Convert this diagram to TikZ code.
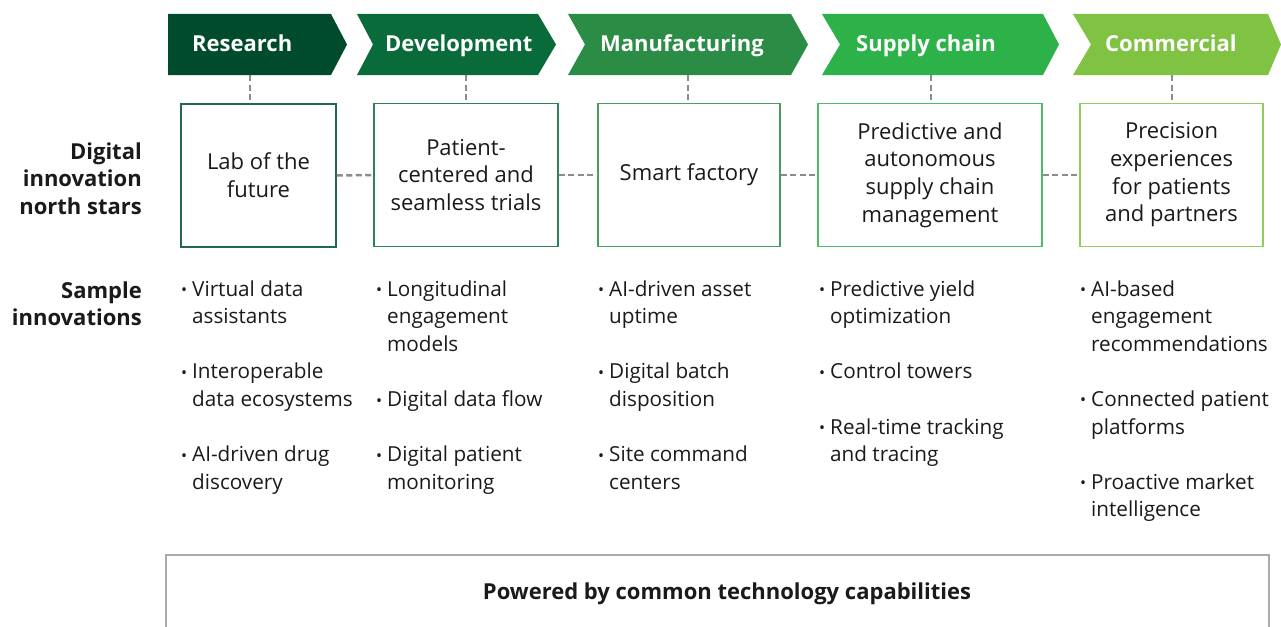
\documentclass[tikz,border=0pt]{standalone}
\usepackage{fontspec}
\setmainfont{Open Sans}
\definecolor{cA}{HTML}{004B2C}
\definecolor{cB}{HTML}{0A6B3A}
\definecolor{cC}{HTML}{2A8C45}
\definecolor{cD}{HTML}{2DB24A}
\definecolor{cE}{HTML}{80C342}
\definecolor{dashgray}{HTML}{8C8C8C}
\definecolor{boxgray}{HTML}{A8ABAD}
\definecolor{txt}{HTML}{1A1A1A}
\newcommand\fntbody{\fontsize{20.7}{27.6}\selectfont}
\newcommand\fntnbox{\fontsize{22}{27.7}\selectfont}
\newcommand\fnthead{\fontsize{22}{27.4}\selectfont\bfseries}
\newcommand\bul{\makebox[11pt][l]{\raisebox{0.6pt}{\fontsize{16}{16}\selectfont •}}}
\newcommand\ind{\hspace*{11pt}}
\begin{document}
\begin{tikzpicture}[x=1pt,y=-1pt,
  chevtext/.style={font=\fnthead, text=white, anchor=base west, inner sep=0},
  nsbox/.style={draw, line width=1.5pt, fill=white, minimum height=143pt, font=\fntnbox, text=txt, align=center, inner sep=2pt},
  dsh/.style={draw=dashgray, line width=2.5pt, dash pattern=on 6pt off 3.5pt},
  itm/.style={font=\fntbody, text=txt, align=left, anchor=north west, inner sep=0},
  lbl/.style={font=\fnthead, text=txt, align=right, anchor=north east, inner sep=0}]
\useasboundingbox (0,0) rectangle (1281,626);

% chevrons
\fill[cA] (168,14) -- (331,14) -- (347,44.5) -- (331,75) -- (168,75) -- cycle;
\fill[cB] (357,14) -- (538,14) -- (556,44.5) -- (538,75) -- (357,75) -- (373,44.5) -- cycle;
\fill[cC] (568,14) -- (791,14) -- (808,44.5) -- (791,75) -- (568,75) -- (585,44.5) -- cycle;
\fill[cD] (822,14) -- (1043,14) -- (1059,44.5) -- (1043,75) -- (822,75) -- (840,44.5) -- cycle;
\fill[cE] (1073,14) -- (1268,14) -- (1281,44.5) -- (1268,75) -- (1073,75) -- (1091,44.5) -- cycle;

\node[chevtext] (h1) at (192,52) {Research};
\node[chevtext] (h2) at (385,52) {Development};
\node[chevtext] (h3) at (600,52) {Manufacturing};
\node[chevtext] (h4) at (856,52) {Supply chain};
\node[chevtext] (h5) at (1105,52) {Commercial};

\coordinate (t1) at (250,75);
\coordinate (t2) at (466,75);
\coordinate (t3) at (688,75);
\coordinate (t4) at (931,75);
\coordinate (t5) at (1172,75);

% north star boxes
\node[nsbox, draw=cA!85!white, minimum width=155pt] (b1) at (258.5,175.5) {Lab of the\\future};
\node[nsbox, draw=cB!85!white, minimum width=184pt] (b2) at (466,175) {Patient-\\centered and\\seamless trials};
\node[nsbox, draw=cC!85!white, minimum width=182pt] (b3) at (689,175) {Smart factory};
\node[nsbox, draw=cD!85!white, minimum width=224pt] (b4) at (930,175) {Predictive and\\autonomous\\supply chain\\management};
\node[nsbox, draw=cE!85!white, minimum width=183pt] (b5) at (1171.5,175) {Precision\\experiences\\for patients\\and partners};

% connectors
\draw[dsh] (t1) -- (t1 |- b1.north);
\draw[dsh] (t2) -- (t2 |- b2.north);
\draw[dsh] (t3) -- (t3 |- b3.north);
\draw[dsh] (t4) -- (t4 |- b4.north);
\draw[dsh] (t5) -- (t5 |- b5.north);
\draw[dsh] (b1.east) -- (b2.west);
\draw[dsh] (b2.east) -- (b3.west);
\draw[dsh] (b3.east) -- (b4.west);
\draw[dsh] (b4.east) -- (b5.west);

% row labels
\node[lbl] (ns) at (142,142.3) {Digital\\innovation\\north stars};
\node[lbl] (si) at (142,281.3) {Sample\\innovations};

% sample innovations
\node[itm] (i11) at (181,280.2) {\bul Virtual data\\\ind assistants};
\node[itm] (i12) at (181,363) {\bul Interoperable\\\ind data ecosystems};
\node[itm] (i13) at (181,445.8) {\bul AI-driven drug\\\ind discovery};

\node[itm] (i21) at (376,280.2) {\bul Longitudinal\\\ind engagement\\\ind models};
\node[itm] (i22) at (376,390.6) {\bul Digital data flow};
\node[itm] (i23) at (376,445.8) {\bul Digital patient\\\ind monitoring};

\node[itm] (i31) at (598,280.2) {\bul AI-driven asset\\\ind uptime};
\node[itm] (i32) at (598,363) {\bul Digital batch\\\ind disposition};
\node[itm] (i33) at (598,445.8) {\bul Site command\\\ind centers};

\node[itm] (i41) at (819,280.2) {\bul Predictive yield\\\ind optimization};
\node[itm] (i42) at (819,363) {\bul Control towers};
\node[itm] (i43) at (819,418.2) {\bul Real-time tracking\\\ind and tracing};

\node[itm] (i51) at (1080,280.2) {\bul AI-based\\\ind engagement\\\ind recommendations};
\node[itm] (i52) at (1080,390.6) {\bul Connected patient\\\ind platforms};
\node[itm] (i53) at (1080,473.4) {\bul Proactive market\\\ind intelligence};

% bottom box
\draw[boxgray, line width=2.5pt] (166,700) -- (166,555) -- (1269,555) -- (1269,700);
\node[font=\fnthead, text=txt, anchor=base, inner sep=0] (pw) at (727,599) {Powered by common technology capabilities};
\end{tikzpicture}
\end{document}
